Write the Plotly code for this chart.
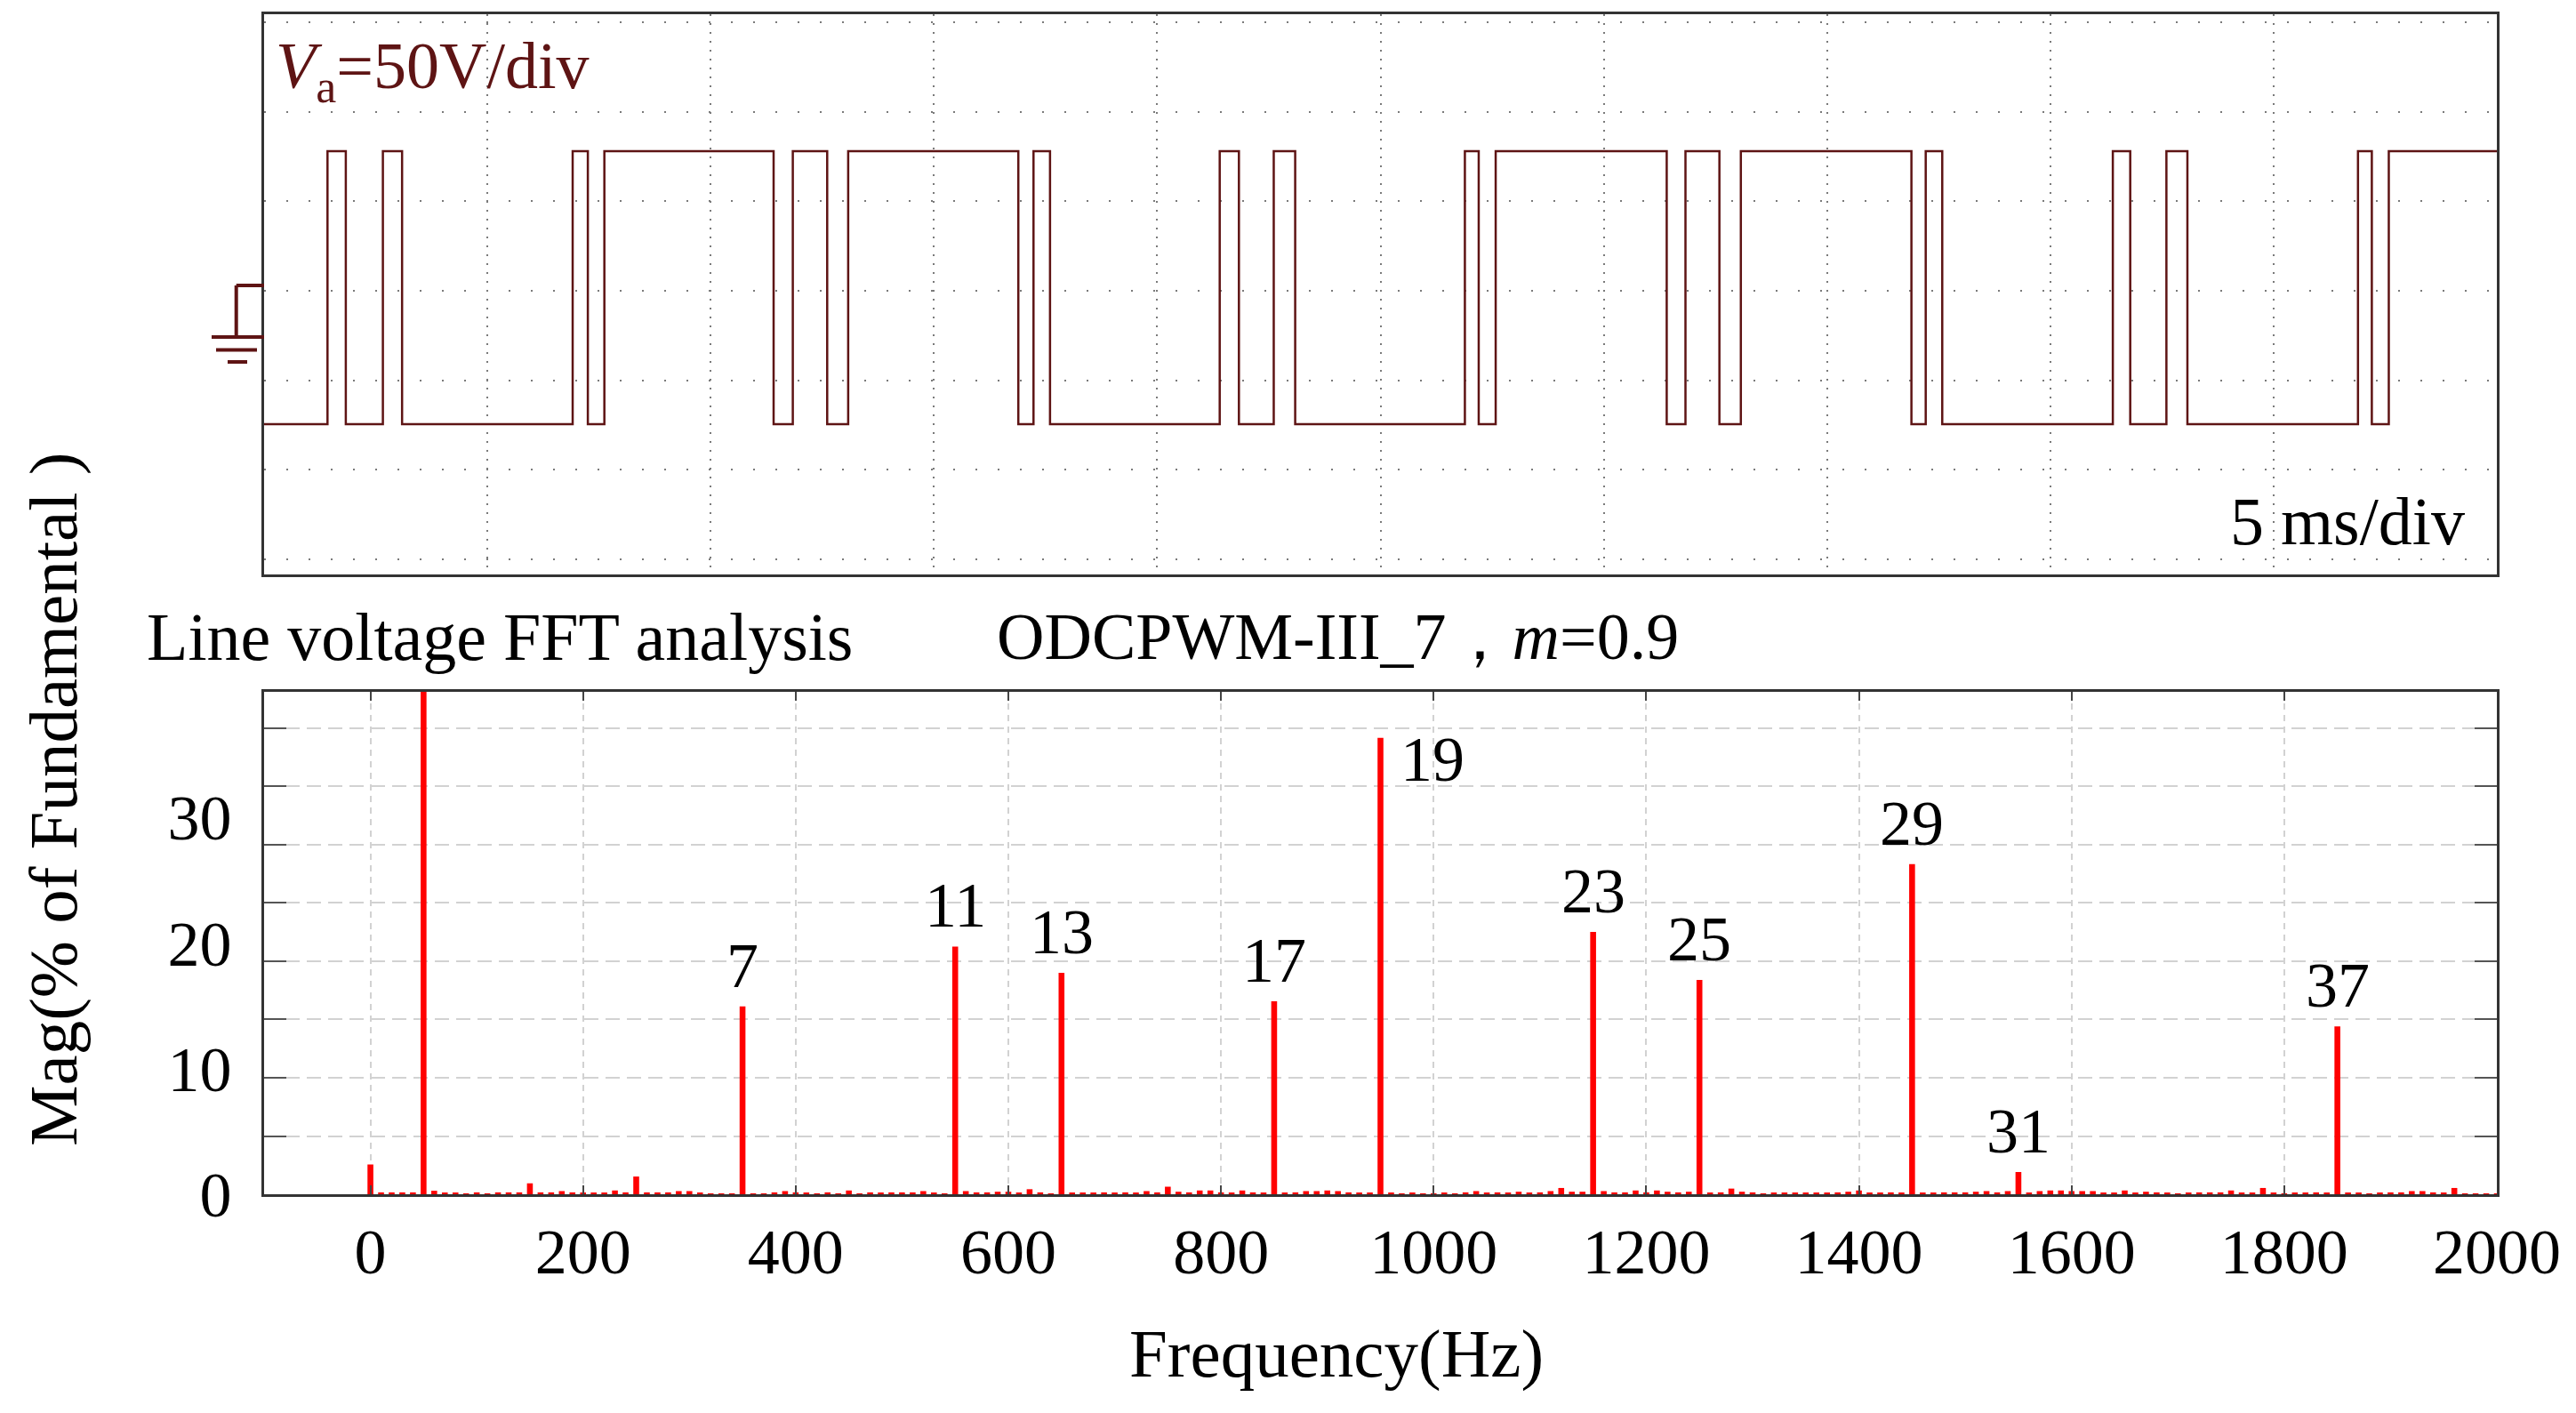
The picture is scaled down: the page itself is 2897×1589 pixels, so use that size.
import plotly.graph_objects as go

# page is W x H; the figure sits inside the default 8px body margin
W, H = 2897, 1589
OFF = 8
FW, FH = W - 2 * OFF, H - 2 * OFF
FONT = "Liberation Serif"

# ---------------- scope (top) data ----------------
# switching instants of the line voltage, ms (5 ms/div, 10 div)
edge_ms = [1.42, 1.83, 2.66, 3.09, 6.91, 7.25, 7.62, 11.41, 11.84, 12.61, 13.08,
           16.89, 17.23, 17.60, 21.40, 21.83, 22.61, 23.09, 26.89, 27.20, 27.58,
           31.41, 31.83, 32.59, 33.07, 36.89, 37.21, 37.58, 41.40, 41.79, 42.60,
           43.07, 46.89, 47.20, 47.58]
level_low = 1.51    # screen divisions
level_high = 4.56
t_end = 50.0

# ---------------- FFT (bottom) data ----------------
harm_freq = [0, 50, 150, 250, 350, 550, 650, 850, 950, 1150, 1250, 1450, 1550, 1850]
harm_mag = [2.37, 100.0, 0.87, 1.41, 14.95, 19.72, 17.63, 15.36, 36.33, 20.88, 17.06, 26.28, 1.77, 13.36]
# small spectral content every 10 Hz from 0 to 2000 Hz
noise_mag = [
    0.0, .15, .15, .15, .15, 0.0, .28, .10, .10, .05,
    .15, .05, .15, .15, .15, 0.0, .15, .15, .25, .15,
    .10, .10, .10, .30, .15, 0.0, .15, .15, .15, .25,
    .25, .10, .05, .05, .05, 0.0, .05, .05, .15, .25,
    .15, .10, .05, .15, .05, .30, .05, .15, .10, .15,
    .15, .15, .25, .10, .05, 0.0, .25, .15, .15, .20,
    .20, .10, .40, .15, .05, 0.0, .10, .10, .10, .15,
    .10, .15, .10, .25, .15, .60, .20, .15, .30, .30,
    .15, .10, .30, .15, .10, 0.0, .10, .15, .25, .25,
    .30, .25, .15, .10, .10, 0.0, .10, .05, .10, .05,
    .05, .10, .05, .15, .25, .10, .15, .10, .20, .10,
    .15, .25, .50, .20, .20, 0.0, .25, .15, .15, .30,
    .15, .30, .20, .15, .20, 0.0, .10, .15, .45, .20,
    .15, .05, .10, .10, .10, .10, .10, .10, .15, .20,
    .30, .10, .10, .15, .10, 0.0, .10, .10, .15, .15,
    .15, .20, .25, .15, .25, 0.0, .10, .25, .30, .30,
    .25, .25, .25, .10, .10, .30, .10, .20, .15, .10,
    .05, .10, .15, .15, .15, .30, .10, .10, .50, .10,
    .05, .10, .10, .15, .10, 0.0, .10, .10, .05, .10,
    .15, .15, .25, .25, .15, .10, .50, .05, .05, .05,
    .05]
noise_step_hz = 10
label_orders = ["7", "11", "13", "17", "19", "23", "25", "29", "31", "37"]
label_freq = [350, 550, 650, 850, 950, 1150, 1250, 1450, 1550, 1850]
x_ticks = [0, 200, 400, 600, 800, 1000, 1200, 1400, 1600, 1800, 2000]
y_ticks = [0, 10, 20, 30]
y_grid = [4.61, 9.26, 13.93, 18.58, 23.19, 27.83, 32.51, 37.12]


def px(x):
    return (x - OFF) / FW


def py(y):
    return 1 - (y - OFF) / FH


# build scope step waveform
xs, ys = [0.0], [level_low]
lvl = level_low
for t in edge_ms:
    nxt = level_high if lvl == level_low else level_low
    xs += [t, t]
    ys += [lvl, nxt]
    lvl = nxt
xs.append(t_end)
ys.append(lvl)

noise_freq = [i * noise_step_hz for i in range(len(noise_mag))]

fig = go.Figure()

MAROON = "#5e1414"
fig.add_trace(go.Scatter(x=xs, y=ys, mode="lines", line=dict(color=MAROON, width=2.5),
                         xaxis="x", yaxis="y", showlegend=False, hoverinfo="skip"))

fig.add_trace(go.Bar(x=noise_freq, y=noise_mag, width=5.5, marker=dict(color="#ff0000", line=dict(width=0)),
                     xaxis="x2", yaxis="y2", showlegend=False))
fig.add_trace(go.Bar(x=harm_freq, y=harm_mag, width=5.5, marker=dict(color="#ff0000", line=dict(width=0)),
                     xaxis="x2", yaxis="y2", showlegend=False))
# invisible trace to materialise the grid overlay axis
fig.add_trace(go.Scatter(x=[0], y=[0], mode="markers", marker=dict(opacity=0), xaxis="x2", yaxis="y3",
                         showlegend=False, hoverinfo="skip"))

fig.update_layout(barmode="overlay")

dom_x = [px(297), px(2808)]
frame = dict(showline=True, linecolor="#333333", linewidth=3, mirror=True, zeroline=False, automargin=False)

fig.update_layout(
    width=FW, height=FH, autosize=False, margin=dict(l=0, r=0, t=0, b=0, pad=0),
    paper_bgcolor="white", plot_bgcolor="white",
    font=dict(family=FONT, color="black", size=72),
    xaxis=dict(domain=dom_x, range=[0, t_end], tickvals=[5, 10, 15, 20, 25, 30, 35, 40, 45],
               showticklabels=False, ticks="", showgrid=True, gridcolor="#7a7a7a", gridwidth=2,
               griddash="2px,8px", anchor="y", **frame),
    yaxis=dict(domain=[py(646), py(16)], range=[-0.169, 6.089], tickvals=[0, 1, 2, 3, 4, 5, 6],
               showticklabels=False, ticks="", showgrid=True, gridcolor="#7a7a7a", gridwidth=2,
               griddash="2px,23px", anchor="x", **frame),
    xaxis2=dict(domain=dom_x, range=[-100, 2000], tickvals=x_ticks, ticks="inside", ticklen=10,
                tickwidth=2, tickcolor="#444444", showgrid=True, gridcolor="#d2d2d2", gridwidth=2,
                griddash="7px,6px", tickfont=dict(size=72), ticklabelstandoff=0, anchor="y2",
                showline=True, linecolor="#333333", linewidth=3, mirror="ticks", zeroline=False,
                automargin=False),
    yaxis2=dict(domain=[py(1343), py(778)], range=[0, 40], tickvals=y_ticks, ticks="",
                showgrid=False, tickfont=dict(size=72), ticklabelstandoff=19, anchor="x2",
                showline=True, linecolor="#333333", linewidth=3, mirror=True, zeroline=False,
                automargin=False),
    yaxis3=dict(overlaying="y2", anchor="x2", range=[0, 40], tickvals=y_grid, showticklabels=False,
                ticks="inside", ticklen=25, tickwidth=2, tickcolor="#555555", showgrid=True,
                gridcolor="#d2d2d2", gridwidth=2, griddash="16px,8px", mirror="ticks",
                showline=True, linecolor="#333333", linewidth=3, zeroline=False, automargin=False),
)

ann = []
for lab, f in zip(label_orders, label_freq):
    m = harm_mag[harm_freq.index(f)]
    if lab == "19":
        ann.append(dict(x=f, y=m, xref="x2", yref="y2", text=lab, showarrow=False,
                        xanchor="left", yanchor="middle", xshift=20, yshift=-24,
                        font=dict(size=72)))
    else:
        ann.append(dict(x=f, y=m, xref="x2", yref="y2", text=lab, showarrow=False,
                        xanchor="center", yanchor="middle", yshift=46, font=dict(size=72)))

ann += [
    dict(x=px(308), y=py(80), xref="paper", yref="paper", text="<i>V</i><sub>a</sub>=50V/div",
         showarrow=False, xanchor="left", yanchor="middle", font=dict(size=74, color=MAROON)),
    dict(x=px(2774), y=py(586), xref="paper", yref="paper", text="5 ms/div",
         showarrow=False, xanchor="right", yanchor="middle", font=dict(size=76, color="black")),
    dict(x=px(163), y=py(716), xref="paper", yref="paper", text="Line voltage FFT analysis",
         showarrow=False, xanchor="left", yanchor="middle", font=dict(size=76)),
    dict(x=px(1119), y=py(716), xref="paper", yref="paper", text="ODCPWM-III_7，<i>m</i>=0.9",
         showarrow=False, xanchor="left", yanchor="middle", font=dict(size=74)),
    dict(x=px(1503), y=py(1522), xref="paper", yref="paper", text="Frequency(Hz)",
         showarrow=False, xanchor="center", yanchor="middle", font=dict(size=77)),
    dict(x=px(60), y=py(899), xref="paper", yref="paper", text="Mag(% of Fundamental )",
         showarrow=False, xanchor="center", yanchor="middle", textangle=-90, font=dict(size=77)),
]
fig.update_layout(annotations=ann)

# ground / channel marker symbol at the left of the scope screen
gnd = [((265.7, 321), (297, 321)), ((265.7, 321), (265.7, 379)), ((238, 379), (297, 379)),
       ((243, 393.5), (289, 393.5)), ((256, 407), (278, 407))]
shapes = []
for (x0, y0), (x1, y1) in gnd:
    shapes.append(dict(type="line", xref="paper", yref="paper", x0=px(x0), y0=py(y0), x1=px(x1), y1=py(y1),
                       line=dict(color=MAROON, width=4)))
fig.update_layout(shapes=shapes)

fig.write_html("out.html")
